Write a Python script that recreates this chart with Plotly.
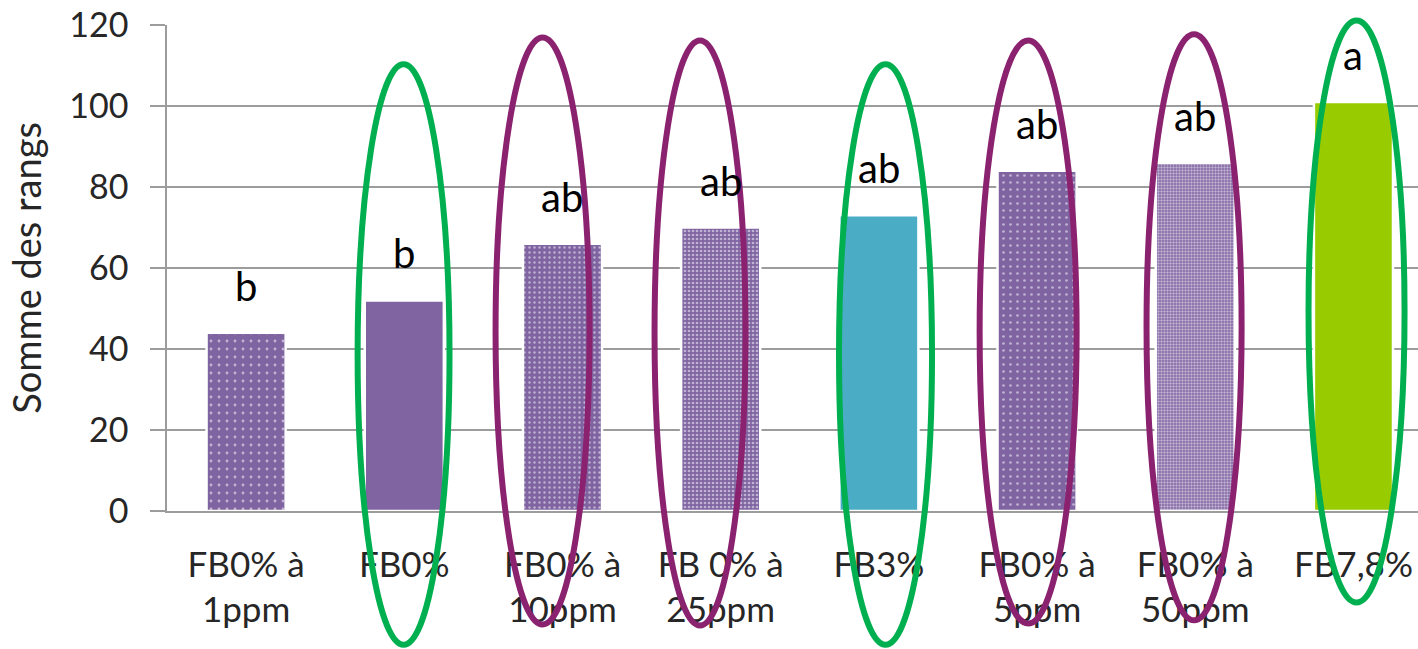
import plotly.graph_objects as go

categories = ["FB0% à<br>1ppm", "FB0%", "FB0% à<br>10ppm", "FB 0% à<br>25ppm",
              "FB3%", "FB0% à<br>5ppm", "FB0% à<br>50ppm", "FB7,8%"]
values = [44, 52, 66, 70, 73, 84, 86, 101]
letters = ["b", "b", "ab", "ab", "ab", "ab", "ab", "a"]

PURPLE = "#8064A2"
bar_bg = [PURPLE, PURPLE, PURPLE, PURPLE, "#4BACC6", PURPLE, PURPLE, "#99CC00"]
pat_shape = [".", "", ".", ".", "", ".", ".", ""]
pat_size = [8, 8, 5, 4, 8, 7, 3, 8]
pat_solid = [0.1, 0.3, 0.18, 0.36, 0.3, 0.12, 0.5, 0.3]

# ellipses (category index units horizontally, value units vertically)
ell_x0 = [0.705, 1.577, 2.582, 3.748, 4.637, 5.692, 6.716]
ell_x1 = [1.286, 2.171, 3.157, 4.336, 5.250, 6.293, 7.323]
ell_top = [110.3, 116.9, 116.2, 110.3, 116.2, 117.7, 121.1]
ell_bot = [-33.0, -28.0, -28.3, -33.0, -27.8, -27.0, -22.6]
ell_color = ["#00B050", "#8B2270", "#8B2270", "#00B050", "#8B2270", "#8B2270", "#00B050"]

YMIN, YMAX = 0, 120
FONT = "Lato"
TXT = "#262626"
GRID = "#9C9C9C"

xs = list(range(len(categories)))

fig = go.Figure()
fig.add_trace(go.Bar(
    x=xs, y=values, width=0.5,
    marker=dict(
        color=bar_bg,
        line=dict(color="white", width=2.5),
        pattern=dict(shape=pat_shape, size=pat_size, solidity=pat_solid,
                     fgcolor="white", bgcolor=bar_bg, fillmode="overlay"),
    ),
    hoverinfo="skip",
))

for i, (v, t) in enumerate(zip(values, letters)):
    fig.add_annotation(x=i, y=v, text=t, showarrow=False, yanchor="bottom",
                       yshift=21, font=dict(family=FONT, size=40, color="black"))

for x0, x1, yt, yb, c in zip(ell_x0, ell_x1, ell_top, ell_bot, ell_color):
    fig.add_shape(type="circle", xref="x", yref="y domain",
                  x0=x0, x1=x1,
                  y0=(yb - YMIN) / (YMAX - YMIN), y1=(yt - YMIN) / (YMAX - YMIN),
                  line=dict(color=c, width=6), layer="above")

fig.update_layout(
    width=1418, height=649,
    margin=dict(l=167, r=0, t=25, b=138, autoexpand=False),
    paper_bgcolor="white", plot_bgcolor="white",
    showlegend=False,
    font=dict(family=FONT, color=TXT),
    bargap=0.5,
)
fig.update_xaxes(
    range=[-0.5, 7.408], tickmode="array", tickvals=xs, ticktext=categories,
    showgrid=False, showline=True, linecolor=GRID, linewidth=1.5,
    ticks="", tickfont=dict(family=FONT, size=35, color=TXT),
    ticklabelstandoff=22, zeroline=False,
)
fig.update_yaxes(
    range=[YMIN, YMAX], tickmode="array", tickvals=[0, 20, 40, 60, 80, 100, 120],
    showgrid=True, gridcolor=GRID, gridwidth=1.5,
    showline=True, linecolor=GRID, linewidth=1.5,
    ticks="outside", ticklen=15, tickcolor=GRID, tickwidth=1.5,
    tickfont=dict(family=FONT, size=34, color=TXT), ticklabelstandoff=15,
    zeroline=False,
    title=dict(text="Somme des rangs", font=dict(family=FONT, size=38, color=TXT), standoff=16),
)

fig.write_html("out.html")
